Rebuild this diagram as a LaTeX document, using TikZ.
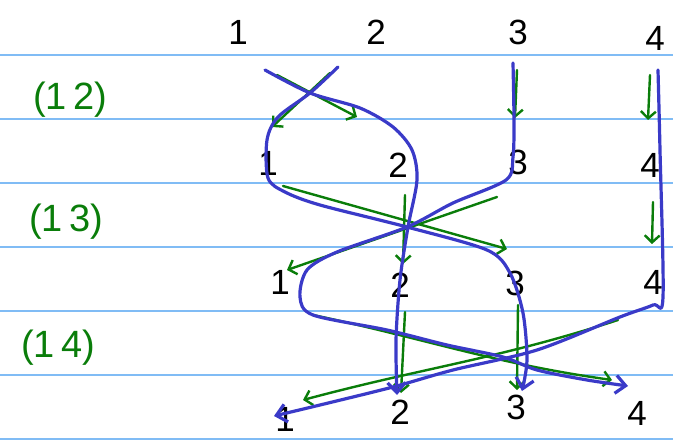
\documentclass[tikz,border=0pt]{standalone}
\usepackage{fontspec}
\setmainfont{Liberation Sans}
\usetikzlibrary{arrows.meta}
\definecolor{ruleblue}{RGB}{128,188,245}
\definecolor{strandblue}{RGB}{58,58,200}
\definecolor{permgreen}{RGB}{10,125,10}

\begin{document}
\begin{tikzpicture}[x=1pt, y=-1pt,
 num/.style={font=\fontsize{35}{35}\selectfont, inner sep=0pt},
 cyc/.style={font=\fontsize{38}{38}\selectfont, text=permgreen, inner sep=0pt},
 strand/.style={draw=strandblue, line width=3.2pt, line cap=round, line join=round, -{Straight Barb[length=10pt, width=18pt]}},
 garrow/.style={draw=permgreen, line width=2.4pt, line cap=round, -{Straight Barb[length=7pt, width=15pt]}}]
 \useasboundingbox (0,0) rectangle (673,441);
 \foreach \y in {55,119,183,247,311,375,439}
  \draw[ruleblue, line width=1.8pt] (0,\y) -- (673,\y);

 % positions
 \node[num] (top1) at (238,32){1};
 \node[num] (top2) at (376,32){2};
 \node[num] (top3) at (518,32){3};
 \node[num] (top4) at (655,38){4};
 \node[num] (mid1) at (268,163){1};
 \node[num] (mid2) at (398,165){2};
 \node[num] (mid3) at (518,162){3};
 \node[num] (mid4) at (650,165){4};
 \node[num] (low1) at (280,282){1};
 \node[num] (low2) at (400,285){2};
 \node[num] (low3) at (515,283){3};
 \node[num] (low4) at (653,282){4};
 \node[num] (end1) at (285,419){1};
 \node[num] (end2) at (400,412){2};
 \node[num] (end3) at (516,407){3};
 \node[num] (end4) at (637,413){4};

 % transpositions
 \node[cyc] (c12) at (70,100){(1\,2)};
 \node[cyc] (c13) at (66,222){(1\,3)};
 \node[cyc] (c14) at (58,348){(1\,4)};

 % green arrows, one row per transposition
 \coordinate (a12) at (277,75);  \coordinate (b12) at (357,117);
 \coordinate (a21) at (330,73);  \coordinate (b21) at (272,127);
 \coordinate (a33) at (517,70);  \coordinate (b33) at (515,118);
 \coordinate (a44) at (650,75);  \coordinate (b44) at (648,120);
 \draw[garrow] (a12) -- (b12);
 \draw[garrow] (a21) -- (b21);
 \draw[garrow] (a33) -- (b33);
 \draw[garrow] (a44) -- (b44);

 \coordinate (d13) at (283,186); \coordinate (e13) at (507,249);
 \coordinate (d31) at (497,197); \coordinate (e31) at (287,270);
 \coordinate (d22) at (405,195); \coordinate (e22) at (403,264);
 \coordinate (d44) at (653,202); \coordinate (e44) at (652,244);
 \draw[garrow] (d13) -- (e13);
 \draw[garrow] (d31) -- (e31);
 \draw[garrow] (d22) -- (e22);
 \draw[garrow] (d44) -- (e44);

 \coordinate (f14) at (313,315); \coordinate (g14) at (612,380);
 \coordinate (f41) at (618,320); \coordinate (g41) at (303,400);
 \coordinate (f22) at (405,312); \coordinate (g22) at (401,393);
 \coordinate (f33) at (518,305); \coordinate (g33) at (517,390);
 \draw[garrow] (f14) to[out=-12, in=172] (g14);
 \draw[garrow] (f41) to[out=-162, in=15] (g41);
 \draw[garrow] (f22) -- (g22);
 \draw[garrow] (f33) -- (g33);

 % blue strands, the product
 \coordinate (s1) at (265,70);  \coordinate (t2) at (397,395);
 \coordinate (s2) at (338,67);  \coordinate (t3) at (522,391);
 \coordinate (s3) at (513,63);  \coordinate (t4) at (628,386);
 \coordinate (s4) at (658,70);  \coordinate (t1) at (274,416);
 \draw[strand] plot[smooth] coordinates {(s1) (310,93) (360,108) (393,127) (412,150) (417,180) (408,227) (400,280) (396,340) (t2)};
 \draw[strand] plot[smooth] coordinates {(s2) (310,93) (278,117) (267,140) (268,178) (285,192) (320,205) (407,227) (487,250) (510,273) (523,313) (527,360) (t3)};
 \draw[strand] plot[smooth] coordinates {(s3) (514,120) (513,157) (506,180) (453,203) (407,227) (337,252) (307,270) (300,297) (313,315) (387,330) (447,345) (503,357) (537,370) (587,380) (t4)};
 \draw[strand] plot[smooth] coordinates {(s4) (660,150) (663,297) (653,305) (620,317) (537,350) (453,370) (393,387) (320,405) (t1)};
\end{tikzpicture}
\end{document}
